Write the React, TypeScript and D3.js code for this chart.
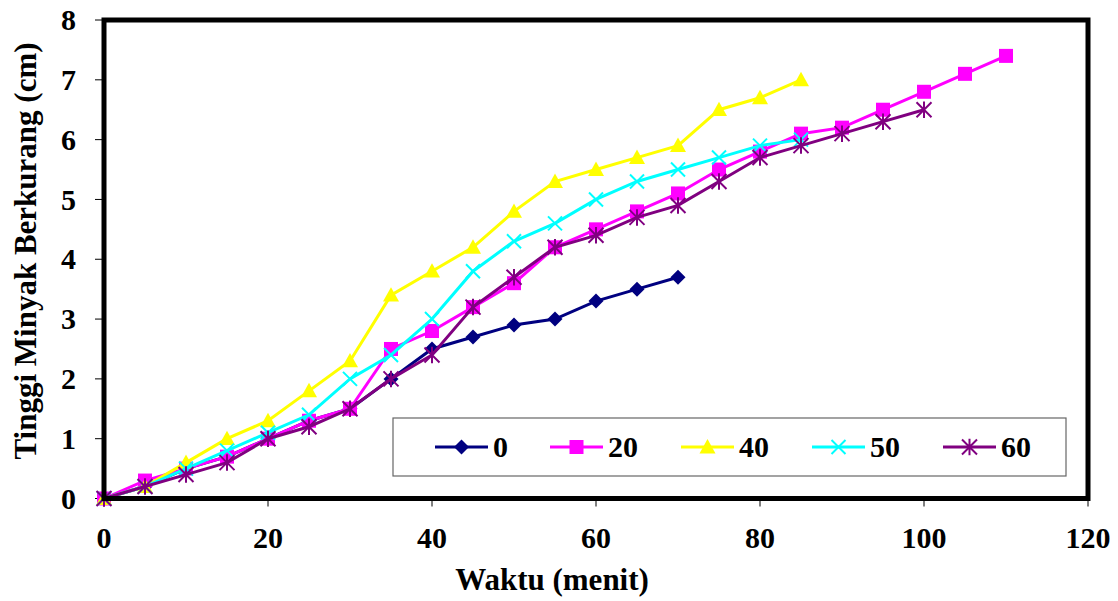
import React from "react";
import * as d3 from "d3";

const xs0 = [0, 5, 10, 15, 20, 25, 30, 35, 40, 45, 50, 55, 60, 65, 70];
const s0 = [0, 0.2, 0.5, 0.7, 1.0, 1.3, 1.5, 2.0, 2.5, 2.7, 2.9, 3.0, 3.3, 3.5, 3.7];
const xs20 = [0, 5, 10, 15, 20, 25, 30, 35, 40, 45, 50, 55, 60, 65, 70, 75, 80, 85, 90, 95, 100, 105, 110];
const s20 = [0, 0.3, 0.5, 0.7, 1.0, 1.3, 1.5, 2.5, 2.8, 3.2, 3.6, 4.2, 4.5, 4.8, 5.1, 5.5, 5.8, 6.1, 6.2, 6.5, 6.8, 7.1, 7.4];
const xs40 = [0, 5, 10, 15, 20, 25, 30, 35, 40, 45, 50, 55, 60, 65, 70, 75, 80, 85];
const s40 = [0, 0.2, 0.6, 1.0, 1.3, 1.8, 2.3, 3.4, 3.8, 4.2, 4.8, 5.3, 5.5, 5.7, 5.9, 6.5, 6.7, 7.0];
const xs50 = [0, 5, 10, 15, 20, 25, 30, 35, 40, 45, 50, 55, 60, 65, 70, 75, 80, 85];
const s50 = [0, 0.2, 0.5, 0.8, 1.1, 1.4, 2.0, 2.4, 3.0, 3.8, 4.3, 4.6, 5.0, 5.3, 5.5, 5.7, 5.9, 6.0];
const xs60 = [0, 5, 10, 15, 20, 25, 30, 35, 40, 45, 50, 55, 60, 65, 70, 75, 80, 85, 90, 95, 100];
const s60 = [0, 0.2, 0.4, 0.6, 1.0, 1.2, 1.5, 2.0, 2.4, 3.2, 3.7, 4.2, 4.4, 4.7, 4.9, 5.3, 5.7, 5.9, 6.1, 6.3, 6.5];

const seriesNames = ["0", "20", "40", "50", "60"];
const xTicks = [0, 20, 40, 60, 80, 100, 120];
const yTicks = [0, 1, 2, 3, 4, 5, 6, 7, 8];

const colors = ["#000080", "#ff00ff", "#ffff00", "#00ffff", "#800080"];
const markers = ["diamond", "square", "triangle", "x", "star"];

const W = 1118, H = 601;
const left = 104, right = 1088, top = 20, bottom = 498.5;
const font = "Liberation Serif";
const txt = { fontFamily: font, fontWeight: 700 } as React.CSSProperties;

function Marker({ type, color, x, y }: { type: string; color: string; x: number; y: number }) {
  if (type === "diamond") {
    const r = 7.5;
    return <path d={`M${x},${y - r}L${x + r},${y}L${x},${y + r}L${x - r},${y}Z`} fill={color} />;
  }
  if (type === "square") {
    const r = 7;
    return <rect x={x - r} y={y - r} width={2 * r} height={2 * r} fill={color} />;
  }
  if (type === "triangle") {
    const r = 8;
    return <path d={`M${x},${y - r}L${x + r},${y + r * 0.8}L${x - r},${y + r * 0.8}Z`} fill={color} />;
  }
  if (type === "x") {
    const r = 7;
    return (
      <path d={`M${x - r},${y - r}L${x + r},${y + r}M${x - r},${y + r}L${x + r},${y - r}`} stroke={color} strokeWidth={2} />
    );
  }
  const r = 7.5;
  return (
    <path
      d={`M${x - r},${y - r}L${x + r},${y + r}M${x - r},${y + r}L${x + r},${y - r}M${x},${y - r * 1.1}L${x},${y + r * 1.1}`}
      stroke={color}
      strokeWidth={2}
    />
  );
}

export default function App() {
  const x = d3.scaleLinear().domain([0, 120]).range([left, right]);
  const y = d3.scaleLinear().domain([0, 8]).range([bottom, top]);
  const line = d3
    .line<[number, number]>()
    .x((d) => x(d[0]))
    .y((d) => y(d[1]));

  const allData: [number, number][][] = [
    xs0.map((v, i) => [v, s0[i]]),
    xs20.map((v, i) => [v, s20[i]]),
    xs40.map((v, i) => [v, s40[i]]),
    xs50.map((v, i) => [v, s50[i]]),
    xs60.map((v, i) => [v, s60[i]]),
  ];

  const legendX = 393, legendY = 418, legendW = 673, legendH = 58;
  const legendItemX = [435, 550, 681, 812, 943];

  return (
    <svg width={W} height={H} style={{ position: "absolute", left: 0, top: 0, background: "#fff" }}>
      {yTicks.map((t) => (
        <g key={"y" + t}>
          <line x1={left - 9} x2={left} y1={y(t)} y2={y(t)} stroke="#000" strokeWidth={1} />
          <text x={left - 28} y={y(t)} dy="0.34em" textAnchor="end" style={txt} fontSize={30}>
            {t}
          </text>
        </g>
      ))}
      {xTicks.map((t) => (
        <g key={"x" + t}>
          <line x1={x(t)} x2={x(t)} y1={bottom} y2={bottom + 8} stroke="#000" strokeWidth={1} />
          <text x={x(t)} y={548} textAnchor="middle" style={txt} fontSize={30}>
            {t}
          </text>
        </g>
      ))}
      {allData.map((d, i) => (
        <g key={"s" + i}>
          <path d={line(d) || ""} fill="none" stroke={colors[i]} strokeWidth={3} />
          {d.map((p, j) => (
            <Marker key={j} type={markers[i]} color={colors[i]} x={x(p[0])} y={y(p[1])} />
          ))}
        </g>
      ))}
      <rect x={left} y={top} width={right - left} height={bottom - top} fill="none" stroke="#000" strokeWidth={5} />
      <rect x={legendX} y={legendY} width={legendW} height={legendH} fill="#fff" stroke="#666" strokeWidth={1.2} />
      {seriesNames.map((n, i) => {
        const lx = legendItemX[i];
        const ly = legendY + legendH / 2;
        return (
          <g key={"l" + i}>
            <line x1={lx} x2={lx + 53} y1={ly} y2={ly} stroke={colors[i]} strokeWidth={3} />
            <Marker type={markers[i]} color={colors[i]} x={lx + 26.5} y={ly} />
            <text x={lx + 58} y={ly} dy="0.34em" style={txt} fontSize={30}>
              {n}
            </text>
          </g>
        );
      })}
      <text x={552} y={590} textAnchor="middle" style={txt} fontSize={31}>
        Waktu (menit)
      </text>
      <text transform={`translate(36,251) rotate(-90)`} textAnchor="middle" style={txt} fontSize={31}>
        Tinggi Minyak Berkurang (cm)
      </text>
    </svg>
  );
}
